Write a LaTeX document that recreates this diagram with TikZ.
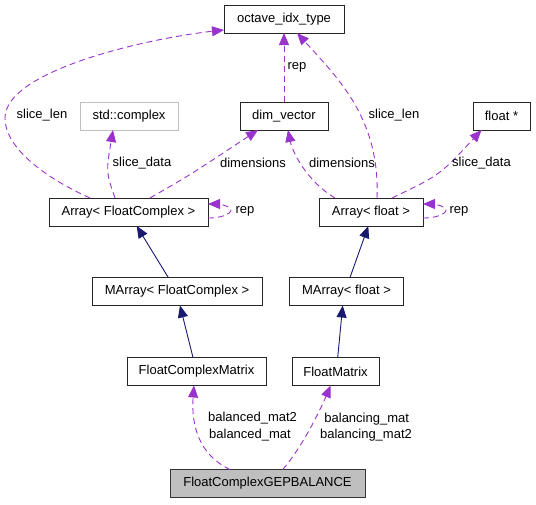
\documentclass[tikz,border=0pt]{standalone}
\usepackage{fontspec}
\setmainfont{Liberation Sans}
\usetikzlibrary{arrows.meta, positioning}
\definecolor{usecol}{HTML}{9A32CD}
\definecolor{inhcol}{HTML}{191970}
\definecolor{boxgray}{HTML}{BFBFBF}
\tikzstyle{cls}      = [draw=black!85, line width=0.9pt, minimum height=28pt, inner sep=2pt, outer sep=0pt, font=\fontsize{13}{15}\selectfont]
\tikzstyle{clsext}   = [cls, draw=boxgray]
\tikzstyle{clsmain}  = [cls, fill=boxgray, draw=black!80]
\tikzstyle{lbl}      = [inner sep=0pt, font=\fontsize{13}{15}\selectfont]
\tikzstyle{inhedge}  = [color=inhcol, line width=0.9pt, -{Triangle[length=12pt, width=10pt]}]
\tikzstyle{useedge}  = [color=usecol, line width=0.9pt, dash pattern=on 6pt off 4pt, -{Triangle[length=12pt, width=10pt]}]

\begin{document}
\begin{tikzpicture}[x=1pt, y=-1pt]
\useasboundingbox (0,0) rectangle (536,504);

\node[cls, minimum width=120pt] (octave) at (284,19) {octave\_idx\_type};
\node[cls, minimum width=88pt] (dimv) at (284,116) {dim\_vector};
\node[clsext, minimum width=98pt] (stdc) at (129,116) {std::complex};
\node[cls, minimum width=57pt] (fptr) at (501.5,116) {float *};

\node[cls, minimum width=159pt] (arrFC) at (128.5,212) {Array< FloatComplex >};
\node[cls, minimum width=104pt] (arrF) at (371,212) {Array< float >};

\node[cls, minimum width=170pt] (marrFC) at (177,291.5) {MArray< FloatComplex >};
\node[cls, minimum width=114pt] (marrF) at (346.5,291.5) {MArray< float >};

\node[cls, minimum width=139pt] (fcm) at (196.5,371.5) {FloatComplexMatrix};
\node[cls, minimum width=87pt] (fm) at (335.5,371.5) {FloatMatrix};

\node[clsmain, minimum width=195pt] (gep) at (267.5,483.5) {FloatComplexGEPBALANCE};

% inheritance
\draw[inhedge] ([xshift=-8.7pt]marrFC.north) -- ([xshift=8.2pt]arrFC.south);
\draw[inhedge] ([xshift=3.5pt]marrF.north) -- ([xshift=-2.7pt]arrF.south);
\draw[inhedge] ([xshift=-3.5pt]fcm.north) -- ([xshift=3pt]marrFC.south);
\draw[inhedge] ([xshift=2.2pt]fm.north) -- ([xshift=-3.8pt]marrF.south);

% usage
\draw[useedge] ([xshift=-38.5pt]arrFC.north) .. controls (50,180) and (5,150) .. (5,118)
  .. controls (5,70) and (150,38) .. ([yshift=-11pt]octave.west);
\draw[useedge] ([xshift=-13.5pt]arrFC.north) .. controls (106,172) .. ([xshift=-16pt]stdc.south);
\draw[useedge] ([xshift=21.5pt]arrFC.north) .. controls (190,175) .. ([xshift=-26pt]dimv.south);
\draw[useedge] (dimv.north) -- (octave.south);
\draw[useedge] ([xshift=6pt]arrF.north) .. controls (380,120) and (340,80) .. ([xshift=13pt]octave.south);
\draw[useedge] ([xshift=-36pt]arrF.north) .. controls (305,180) and (292,150) .. ([xshift=4pt]dimv.south);
\draw[useedge] ([xshift=21pt]arrF.north) .. controls (440,175) .. ([xshift=-20pt]fptr.south);
\draw[useedge] ([yshift=-6pt]arrFC.east) .. controls (225,218) and (234,212) .. (230,208)
  .. controls (226,205) and (218,204) .. ([yshift=8pt]arrFC.east);
\draw[useedge] ([yshift=-6pt]arrF.east) .. controls (440,218) and (449,212) .. (445,208)
  .. controls (441,205) and (433,204) .. ([yshift=8pt]arrF.east);
\draw[useedge] ([xshift=-37.5pt]gep.north) .. controls (199,455) and (191,425) .. ([xshift=-2.5pt]fcm.south);
\draw[useedge] ([xshift=15.2pt]gep.north) .. controls (300,450) and (318,415) .. ([xshift=-4.8pt]fm.south);

% labels
\node[lbl] (lslenL) at (42,115) {slice\_len};
\node[lbl] (lsdatFC) at (142,163) {slice\_data};
\node[lbl] (ldimFC) at (253,163) {dimensions};
\node[lbl] (lrep) at (297,67) {rep};
\node[lbl] (lslenR) at (394,115) {slice\_len};
\node[lbl] (ldimF) at (342,163) {dimensions};
\node[lbl] (lsdatF) at (481.5,163) {slice\_data};
\node[lbl] (lrepFC) at (245,211) {rep};
\node[lbl] (lrepF) at (459,211) {rep};
\node[lbl] (lbal2) at (252.5,418) {balanced\_mat2};
\node[lbl] (lbal) at (250,435.5) {balanced\_mat};
\node[lbl] (lbcg) at (366.7,419) {balancing\_mat};
\node[lbl] (lbcg2) at (366,435.5) {balancing\_mat2};

\end{tikzpicture}
\end{document}
